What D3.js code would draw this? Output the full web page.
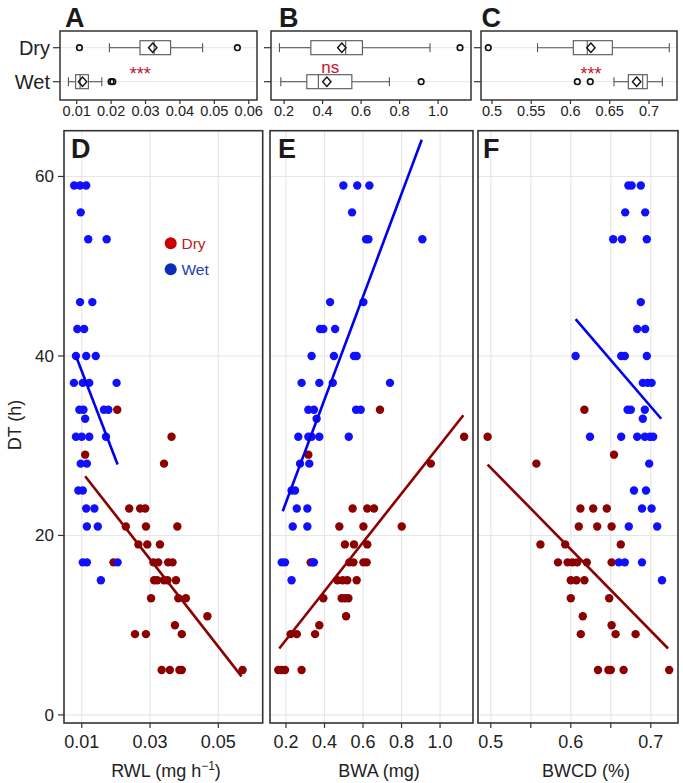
<!DOCTYPE html>
<html><head><meta charset="utf-8">
<script src="https://cdn.jsdelivr.net/npm/d3@7"></script>
<style>body{margin:0;background:#fff}svg{display:block;font-family:"Liberation Sans",Arial,sans-serif}</style>
</head><body>
<svg id="c" width="683" height="783"></svg>
<script>
// ---------- DATA ----------
const groups = ["Dry", "Wet"];
// box-plot summaries (lo whisker, q1, median, q3, hi whisker, mean, outliers)
const boxRWL = [
  {g:"Dry", lo:0.0195, q1:0.0284, med:0.0325, q3:0.0373, hi:0.0466, mean:0.0321, out:[0.0108, 0.0567]},
  {g:"Wet", lo:0.0076, q1:0.0097, med:0.0110, q3:0.0134, hi:0.0173, mean:0.0117, out:[0.0200, 0.0205]}
];
const boxBWA = [
  {g:"Dry", lo:0.176, q1:0.339, med:0.520, q3:0.607, hi:0.958, mean:0.500, out:[1.114]},
  {g:"Wet", lo:0.183, q1:0.318, med:0.378, q3:0.552, hi:0.747, mean:0.422, out:[0.912]}
];
const boxBWCD = [
  {g:"Dry", lo:0.558, q1:0.6036, med:0.6214, q3:0.6533, hi:0.7259, mean:0.626, out:[0.4953]},
  {g:"Wet", lo:0.6554, q1:0.6737, med:0.692, q3:0.6978, hi:0.717, mean:0.6843, out:[0.6087, 0.6252]}
];
const sigLabels = ["***", "ns", "***"];

const ticksRWLtop = [0.01, 0.02, 0.03, 0.04, 0.05, 0.06];
const ticksBWAtop = [0.2, 0.4, 0.6, 0.8, 1.0];
const ticksBWCDtop = [0.5, 0.55, 0.6, 0.65, 0.7];
const ticksRWL = [0.01, 0.03, 0.05];
const ticksBWA = [0.2, 0.4, 0.6, 0.8, 1.0];
const ticksBWCD = [0.5, 0.55, 0.6, 0.65, 0.7];
const labelsBWCD = ["0.5", "", "0.6", "", "0.7"];
const ticksDT = [0, 20, 40, 60];

// scatter: [DT, [x values]]
const rwlWet = [
  [59,[0.0078,0.0095,0.0113]],[56,[0.0097]],[53,[0.0119,0.0173]],[46,[0.0095,0.0131]],
  [43,[0.0087,0.0107]],[40,[0.0083,0.0113,0.0141]],[37,[0.0077,0.0103,0.0122,0.0202]],
  [34,[0.0093,0.0105,0.0165,0.0178]],[33,[0.0110]],[31,[0.0083,0.0100,0.0122,0.0171]],
  [28,[0.0097,0.0115]],[25,[0.0090,0.0103]],[23,[0.0113,0.0137]],[21,[0.0115,0.0147]],
  [17,[0.0103,0.0115,0.0205]],[15,[0.0156]]
];
const rwlDry = [
  [34,[0.0204]],[31,[0.0363]],[29,[0.0110]],[28,[0.0341]],[23,[0.0239,0.0271,0.0286]],
  [21,[0.0229,0.0288,0.0380]],[19,[0.0266,0.0292,0.0329]],[17,[0.0193,0.0310,0.0324,0.0353,0.0366]],
  [15,[0.0312,0.0321,0.0341,0.0351,0.0376]],[13,[0.0303,0.0383,0.0405]],[11,[0.0468]],
  [10,[0.0373]],[9,[0.0256,0.0288,0.0393]],[5,[0.0334,0.0358,0.0386,0.0393,0.0571]]
];
const bwaWet = [
  [59,[0.498,0.570,0.633]],[56,[0.543]],[53,[0.616,0.628,0.908]],[46,[0.429,0.602]],
  [43,[0.377,0.394,0.455]],[40,[0.333,0.449,0.553,0.567]],[37,[0.281,0.373,0.443,0.740]],
  [34,[0.316,0.345,0.564,0.588]],[33,[0.359]],[31,[0.264,0.316,0.333,0.373,0.526]],
  [28,[0.273,0.321]],[25,[0.229,0.247]],[23,[0.256,0.311]],[21,[0.235,0.311]],
  [17,[0.178,0.195,0.339,0.345]],[15,[0.229]]
];
const bwaDry = [
  [34,[0.688]],[31,[1.125]],[29,[0.316]],[28,[0.952]],[23,[0.546,0.622,0.657]],
  [21,[0.477,0.602,0.801]],[19,[0.506,0.553,0.622]],[17,[0.328,0.529,0.550,0.602,0.619]],
  [15,[0.467,0.494,0.518,0.567]],[13,[0.394,0.489,0.506,0.524]],[11,[0.512]],[10,[0.373]],
  [9,[0.224,0.256,0.351]],[5,[0.160,0.178,0.195,0.281]]
];
const bwcdWet = [
  [59,[0.672,0.676,0.6875]],[56,[0.668,0.693]],[53,[0.653,0.664,0.695]],[46,[0.6875]],
  [43,[0.683,0.693]],[40,[0.606,0.663,0.6675,0.695]],[37,[0.690,0.696,0.701]],
  [34,[0.671,0.675,0.6925]],[33,[0.690]],[31,[0.624,0.663,0.683,0.6925,0.699,0.703]],
  [28,[0.698]],[25,[0.679,0.694]],[23,[0.689,0.701]],[21,[0.6725,0.708]],
  [17,[0.660,0.6675,0.689]],[15,[0.714]]
];
const bwcdDry = [
  [34,[0.617]],[31,[0.496]],[29,[0.654]],[28,[0.557]],[23,[0.612,0.628,0.645]],
  [21,[0.610,0.633,0.651]],[19,[0.562,0.593,0.6625]],[17,[0.584,0.596,0.602,0.608,0.620,0.651]],
  [15,[0.600,0.607,0.617]],[13,[0.600,0.648]],[11,[0.615]],[10,[0.651]],
  [9,[0.6125,0.656,0.681]],[5,[0.634,0.647,0.650,0.666,0.723]]
];
// fitted regression segments [x, DT] endpoints
const fitRWLWet = [[0.0083, 40.0], [0.0205, 27.9]];
const fitRWLDry = [[0.0110, 26.6], [0.0568, 4.3]];
const fitBWAWet = [[0.183, 22.7], [0.905, 64.1]];
const fitBWADry = [[0.165, 7.4], [1.121, 33.4]];
const fitBWCDWet = [[0.606, 44.1], [0.713, 33.0]];
const fitBWCDDry = [[0.496, 27.9], [0.7216, 7.4]];

// ---------- DRAW ----------
const svg = d3.select("#c");
const C = {dry:"#8b0000", wet:"#1010ff", box:"#555", frame:"#333", grid:"#e6e6e6", sig:"#c8102e"};

function panelLetter(t, x, y){
  svg.append("text").attr("x",x).attr("y",y).attr("font-size",27).attr("font-weight","bold")
    .attr("fill","#1a1a1a").text(t);
}

// ---- top box panels ----
const topY = d3.scalePoint().domain(groups).range([47.7, 81.7]);
const TOP = {y0:31, y1:100};
function boxPanel(x, box, ticks, fmt, sig, sigX, showLabels){
  const g = svg.append("g");
  const [l, r] = x.range();
  groups.forEach(k => g.append("line").attr("x1",l).attr("x2",r).attr("y1",topY(k)).attr("y2",topY(k))
    .attr("stroke",C.grid).attr("stroke-width",1));
  groups.forEach(k => g.append("line").attr("x1",l-7).attr("x2",l).attr("y1",topY(k)).attr("y2",topY(k))
    .attr("stroke",C.frame).attr("stroke-width",1.2));
  if (showLabels) groups.forEach(k => g.append("text").attr("x",l-10).attr("y",topY(k)+7)
    .attr("text-anchor","end").attr("font-size",20).attr("fill","#222").text(k));
  const bh = 14, ch = 9;
  box.forEach(b => {
    const cy = topY(b.g);
    const ln = (x1,x2,y1,y2) => g.append("line").attr("x1",x1).attr("x2",x2).attr("y1",y1).attr("y2",y2)
      .attr("stroke",C.box).attr("stroke-width",1.1);
    ln(x(b.lo), x(b.q1), cy, cy); ln(x(b.q3), x(b.hi), cy, cy);
    ln(x(b.lo), x(b.lo), cy-ch/2, cy+ch/2); ln(x(b.hi), x(b.hi), cy-ch/2, cy+ch/2);
    g.append("rect").attr("x",x(b.q1)).attr("y",cy-bh/2).attr("width",x(b.q3)-x(b.q1)).attr("height",bh)
      .attr("fill","#fff").attr("stroke",C.box).attr("stroke-width",1.1);
    ln(x(b.med), x(b.med), cy-bh/2, cy+bh/2);
    const mx = x(b.mean), d = 4.2;
    g.append("path").attr("d",`M${mx-d},${cy}L${mx},${cy-d-0.5}L${mx+d},${cy}L${mx},${cy+d+0.5}Z`)
      .attr("fill","none").attr("stroke","#111").attr("stroke-width",1.4);
    b.out.forEach(o => g.append("circle").attr("cx",x(o)).attr("cy",cy).attr("r",2.8)
      .attr("fill","none").attr("stroke","#111").attr("stroke-width",1.6));
  });
  g.append("text").attr("x",sigX).attr("y", sig==="ns" ? 73 : 80).attr("text-anchor","middle")
    .attr("font-size", sig==="ns"?17:18).attr("fill",C.sig).text(sig);
  g.append("rect").attr("x",l).attr("y",TOP.y0).attr("width",r-l).attr("height",TOP.y1-TOP.y0)
    .attr("fill","none").attr("stroke",C.frame).attr("stroke-width",1.5);
  ticks.forEach(t => {
    g.append("line").attr("x1",x(t)).attr("x2",x(t)).attr("y1",TOP.y1).attr("y2",TOP.y1+4)
      .attr("stroke",C.frame).attr("stroke-width",1.2);
    g.append("text").attr("x",x(t)).attr("y",TOP.y1+16).attr("text-anchor","middle")
      .attr("font-size",14.5).attr("fill","#222").text(fmt(t));
  });
}
const xA = d3.scaleLinear().domain([0.00515, 0.0624]).range([60, 257]);
const xB = d3.scaleLinear().domain([0.132, 1.171]).range([271, 471]);
const xC = d3.scaleLinear().domain([0.486, 0.7357]).range([481, 677]);
boxPanel(xA, boxRWL, ticksRWLtop, d3.format(".2f"), sigLabels[0], xA(0.0285), true);
boxPanel(xB, boxBWA, ticksBWAtop, d3.format(".1f"), sigLabels[1], xB(0.44), false);
boxPanel(xC, boxBWCD, ticksBWCDtop, t => String(+t.toFixed(2)), sigLabels[2], xC(0.626), false);
panelLetter("A", 65, 26.7); panelLetter("B", 279, 26.7); panelLetter("C", 481.5, 26.7);

// ---- scatter panels ----
const y = d3.scaleLinear().domain([-0.9, 65.1]).range([723, 130.7]);
const flat = rows => rows.flatMap(([dt, xs]) => xs.map(v => ({x:v, dt})));
function scatterPanel(x, ticks, labels, dry, wet, fitDry, fitWet, title, sup, titleX, yAxis){
  const g = svg.append("g");
  const [l, r] = x.range(), [b, t] = y.range();
  ticks.forEach(v => g.append("line").attr("x1",x(v)).attr("x2",x(v)).attr("y1",t).attr("y2",b)
    .attr("stroke",C.grid).attr("stroke-width",1.1));
  ticksDT.forEach(v => g.append("line").attr("x1",l).attr("x2",r).attr("y1",y(v)).attr("y2",y(v))
    .attr("stroke",C.grid).attr("stroke-width",1.1));
  const clipId = "clip" + Math.round(l);
  svg.append("clipPath").attr("id",clipId).append("rect").attr("x",l).attr("y",t).attr("width",r-l).attr("height",b-t);
  const pg = g.append("g").attr("clip-path",`url(#${clipId})`);
  pg.selectAll(".d").data(flat(dry)).join("circle").attr("cx",d=>x(d.x)).attr("cy",d=>y(d.dt)).attr("r",4.2).attr("fill",C.dry);
  pg.selectAll(".w").data(flat(wet)).join("circle").attr("cx",d=>x(d.x)).attr("cy",d=>y(d.dt)).attr("r",4.2).attr("fill",C.wet);
  const line = d3.line().x(d=>x(d[0])).y(d=>y(d[1]));
  pg.append("path").attr("d",line(fitDry)).attr("stroke",C.dry).attr("stroke-width",2.6).attr("fill","none");
  pg.append("path").attr("d",line(fitWet)).attr("stroke","#0000ee").attr("stroke-width",2.6).attr("fill","none");
  g.append("rect").attr("x",l).attr("y",t).attr("width",r-l).attr("height",b-t)
    .attr("fill","none").attr("stroke",C.frame).attr("stroke-width",1.6);
  ticks.forEach((v,i) => {
    g.append("line").attr("x1",x(v)).attr("x2",x(v)).attr("y1",b).attr("y2",b+5).attr("stroke",C.frame).attr("stroke-width",1.2);
    if (labels[i]) g.append("text").attr("x",x(v)).attr("y",748).attr("text-anchor","middle")
      .attr("font-size",18).attr("fill","#222").text(labels[i]);
  });
  const tt = g.append("text").attr("x",titleX).attr("y",777).attr("text-anchor","middle")
    .attr("font-size",18).attr("fill","#222");
  tt.append("tspan").text(title);
  if (sup){
    tt.append("tspan").attr("dy",-7).attr("font-size",12).text(sup);
    tt.append("tspan").attr("dy",7).text(")");
  }
  if (yAxis){
    ticksDT.forEach(v => {
      g.append("line").attr("x1",l-6).attr("x2",l).attr("y1",y(v)).attr("y2",y(v)).attr("stroke",C.frame).attr("stroke-width",1.2);
      g.append("text").attr("x",l-10).attr("y",y(v)+6).attr("text-anchor","end").attr("font-size",17).attr("fill","#222").text(v);
    });
  }
}
const xD = d3.scaleLinear().domain([0.0048, 0.063]).range([64, 262.7]);
const xE = d3.scaleLinear().domain([0.117, 1.171]).range([270, 473]);
const xF = d3.scaleLinear().domain([0.484, 0.734]).range([478, 678]);
scatterPanel(xD, ticksRWL, ticksRWL.map(d3.format(".2f")), rwlDry, rwlWet, fitRWLDry, fitRWLWet, "RWL (mg h", "−1", 166, true);
scatterPanel(xE, ticksBWA, ticksBWA.map(d3.format(".1f")), bwaDry, bwaWet, fitBWADry, fitBWAWet, "BWA (mg)", null, 379, false);
scatterPanel(xF, ticksBWCD, labelsBWCD, bwcdDry, bwcdWet, fitBWCDDry, fitBWCDWet, "BWCD (%)", null, 586, false);
panelLetter("D", 71, 158.3); panelLetter("E", 278, 158.3); panelLetter("F", 483, 158.3);

svg.append("text").attr("transform","translate(21,425) rotate(-90)").attr("text-anchor","middle")
  .attr("font-size",18).attr("fill","#222").text("DT (h)");

// legend
const leg = [{k:"Dry", c:"#cc0000", t:"#b81c1c", y:243.3}, {k:"Wet", c:"#0a2db8", t:"#2540b0", y:269.3}];
leg.forEach(d => {
  svg.append("circle").attr("cx",170.7).attr("cy",d.y).attr("r",6).attr("fill",d.c);
  svg.append("text").attr("x",181.5).attr("y",d.y+6).attr("font-size",15.5).attr("fill",d.t).text(d.k);
});
</script>
</body></html>
